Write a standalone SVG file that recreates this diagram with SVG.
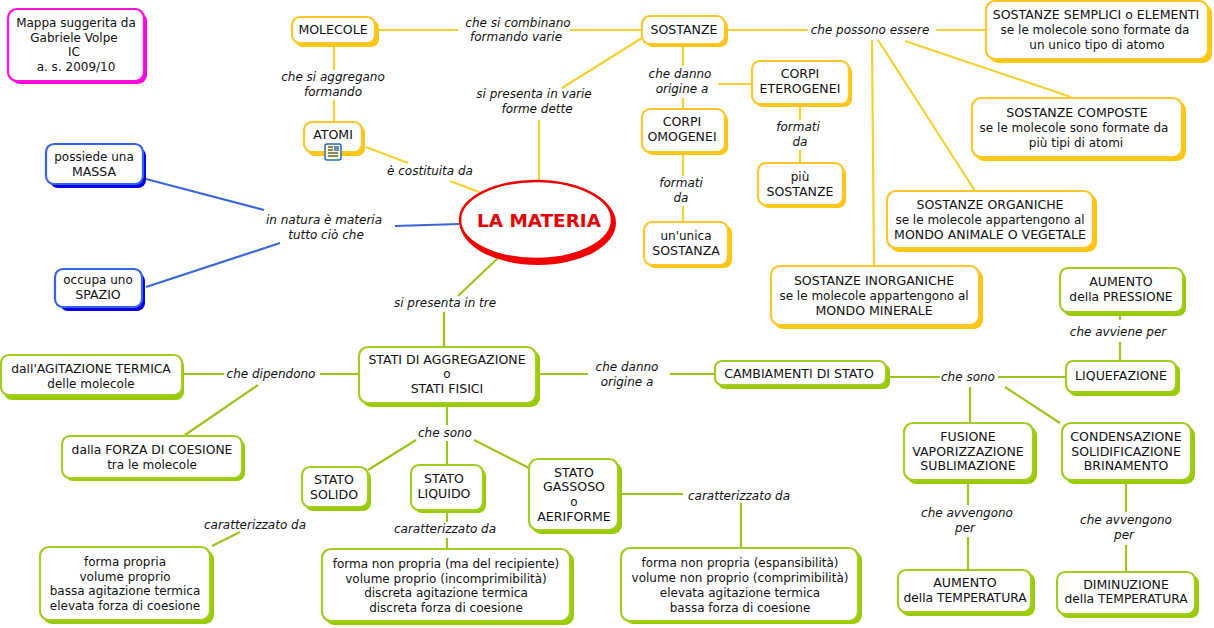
<svg xmlns="http://www.w3.org/2000/svg" width="1214" height="628" viewBox="0 0 1214 628">
<style>
text{font-family:"DejaVu Sans","Liberation Sans",sans-serif;font-size:12px;fill:#111;text-anchor:middle}
text.u{font-size:12.55px}
text.m{font-size:12.3px}
.l{font-style:italic}
.b{fill:#fff;stroke-width:2.2}
.c{fill:none;stroke-width:2.2}
.ny .s{fill:#fdc70f}.ny .b{stroke:#fdc62c}
.ng .s{fill:#99cc00}.ng .b{stroke:#a2cc22}
.nb .s{fill:#0000e6}.nb .b{stroke:#3563ea}
.np .s{fill:#ff00e0}.np .b{stroke:#ff10dd}
</style>
<rect width="1214" height="628" fill="#fff"/>
<g id="connectors">
<g class="c" stroke="#f7d031">
<path d="M379 30H458M570 30H642M334 47V70M334 100V122M366 147L408 163M450 181L479 192M539 180V120M562 88L642 38M683 47V66M683 98V109M728 30H808M936 30H986M718 84H752M800 104V120M800 150V163M683 152V176M683 206V222M905 41L1071 97M878 40L975 191M872 40L874 266"/>
</g>
<g class="c" stroke="#9dc41c">
<path d="M498 258L458 296M444 312V347M359 374H320M224 374H182M258 385L185 435M536 374H588M670 374H715M886 377H940M998 377H1066M1120 361V342M1120 312V320M970 387V423M1005 387L1060 423M968 480V505M968 537V570M1126 480V512M1126 545V572M447 403V425M447 441V465M416 440L368 470M474 440L529 468M447 510V522M212 546L240 532M447 538V549M618 494H683M741 503V548"/>
</g>
<g class="c" stroke="#3a66dc">
<path d="M146 179L264 210M146 287L280 243M395 226L459 224"/>
</g>
</g>
<g id="n-autore" class="np"><rect class="s" x="11" y="12" width="136" height="72" rx="9"/><rect class="b" x="8" y="9" width="136" height="72" rx="9"/><text x="76" y="27">Mappa suggerita da</text><text x="74" y="42">Gabriele Volpe</text><text x="74" y="56">IC</text><text x="76" y="71">a. s. 2009/10</text></g>
<g id="n-molecole" class="ny"><rect class="s" x="295" y="20" width="84" height="27" rx="8"/><rect class="b" x="292" y="17" width="83" height="26" rx="8"/><text class="u" x="333" y="34">MOLECOLE</text></g>
<g id="n-atomi" class="ny"><rect class="s" x="307" y="125" width="58" height="31" rx="8"/><rect class="b" x="304" y="122" width="58" height="30" rx="8"/><text class="u" x="333" y="139">ATOMI</text>
<rect x="325" y="144" width="16" height="16" rx="2" fill="#fffbd0" stroke="#2a6db5" stroke-width="1.5"/><path d="M328 147h5M328 150h5M328 153h10M328 156h10" stroke="#111" stroke-width="1"/><rect x="334" y="146" width="5" height="5" fill="#6a8fc0"/></g>
<g id="n-massa" class="nb"><rect class="s" x="50" y="148" width="96" height="40" rx="8"/><rect class="b" x="46" y="144" width="97" height="40" rx="8"/><text x="94" y="161">possiede una</text><text class="u" x="94" y="176">MASSA</text></g>
<g id="n-spazio" class="nb"><rect class="s" x="60" y="273" width="85" height="38" rx="8"/><rect class="b" x="55" y="269" width="87" height="38" rx="8"/><text x="98" y="284">occupa uno</text><text class="u" x="98" y="299">SPAZIO</text></g>
<g id="n-sostanze" class="ny"><rect class="s" x="645" y="19" width="83" height="28" rx="8"/><rect class="b" x="642" y="16" width="83" height="28" rx="8"/><text class="u" x="684" y="34">SOSTANZE</text></g>
<g id="n-eterogenei" class="ny"><rect class="s" x="755" y="64" width="97" height="43" rx="8"/><rect class="b" x="752" y="61" width="97" height="43" rx="8"/><text class="u" x="800" y="78">CORPI</text><text class="u" x="800" y="93">ETEROGENEI</text></g>
<g id="n-omogenei" class="ny"><rect class="s" x="645" y="112" width="83" height="43" rx="8"/><rect class="b" x="642" y="109" width="83" height="43" rx="8"/><text class="u" x="682" y="126">CORPI</text><text class="u" x="682" y="141">OMOGENEI</text></g>
<g id="n-piu" class="ny"><rect class="s" x="761" y="166" width="85" height="42" rx="8"/><rect class="b" x="758" y="163" width="85" height="42" rx="8"/><text x="800" y="181">più</text><text class="u" x="800" y="196">SOSTANZE</text></g>
<g id="n-unica" class="ny"><rect class="s" x="647" y="225" width="85" height="43" rx="8"/><rect class="b" x="644" y="222" width="84" height="43" rx="8"/><text x="686" y="240">un'unica</text><text class="u" x="686" y="255">SOSTANZA</text></g>
<g id="n-semplici" class="ny"><rect class="s" x="989" y="4" width="223" height="59" rx="9"/><rect class="b" x="986" y="1" width="222" height="58" rx="9"/><text class="u" x="1096" y="19">SOSTANZE SEMPLICI o ELEMENTI</text><text x="1095" y="34">se le molecole sono formate da</text><text x="1097" y="49">un unico tipo di atomo</text></g>
<g id="n-composte" class="ny"><rect class="s" x="975" y="101" width="211" height="60" rx="9"/><rect class="b" x="972" y="98" width="210" height="59" rx="9"/><text class="u" x="1077" y="117">SOSTANZE COMPOSTE</text><text x="1074" y="132">se le molecole sono formate da</text><text x="1076" y="147">più tipi di atomi</text></g>
<g id="n-organiche" class="ny"><rect class="s" x="890" y="194" width="207" height="58" rx="9"/><rect class="b" x="887" y="191" width="206" height="57" rx="9"/><text class="u" x="990" y="209">SOSTANZE ORGANICHE</text><text x="990" y="224">se le molecole appartengono al</text><text class="u" x="990" y="239">MONDO ANIMALE O VEGETALE</text></g>
<g id="n-inorganiche" class="ny"><rect class="s" x="774" y="269" width="209" height="60" rx="9"/><rect class="b" x="771" y="266" width="208" height="59" rx="9"/><text class="u" x="874" y="285">SOSTANZE INORGANICHE</text><text x="874" y="300">se le molecole appartengono al</text><text class="u" x="874" y="315">MONDO MINERALE</text></g>
<g id="n-pressione" class="ng"><rect class="s" x="1063" y="271" width="123" height="45" rx="8"/><rect class="b" x="1060" y="268" width="123" height="44" rx="8"/><text class="u" x="1121" y="286">AUMENTO</text><text class="m" x="1121" y="301">della PRESSIONE</text></g>
<g id="n-liquefazione" class="ng"><rect class="s" x="1069" y="364" width="111" height="32" rx="7"/><rect class="b" x="1066" y="361" width="110" height="31" rx="7"/><text class="u" x="1121" y="380">LIQUEFAZIONE</text></g>
<g id="n-cambiamenti" class="ng"><rect class="s" x="718" y="364" width="172" height="25" rx="7"/><rect class="b" x="715" y="361" width="171" height="24" rx="7"/><text class="u" x="799" y="378">CAMBIAMENTI DI STATO</text></g>
<g id="n-stati" class="ng"><rect class="s" x="362" y="350" width="178" height="57" rx="9"/><rect class="b" x="359" y="347" width="177" height="56" rx="9"/><text class="u" x="447" y="364">STATI DI AGGREGAZIONE</text><text x="447" y="378">o</text><text class="u" x="447" y="393">STATI FISICI</text></g>
<g id="n-agitazione" class="ng"><rect class="s" x="4" y="358" width="180" height="42" rx="8"/><rect class="b" x="1" y="355" width="181" height="40" rx="8"/><text class="m" x="91" y="373">dall'AGITAZIONE TERMICA</text><text x="91" y="388">delle molecole</text></g>
<g id="n-coesione" class="ng"><rect class="s" x="65" y="439" width="180" height="42" rx="8"/><rect class="b" x="62" y="436" width="180" height="42" rx="8"/><text class="m" x="152" y="454">dalla FORZA DI COESIONE</text><text x="152" y="469">tra le molecole</text></g>
<g id="n-solido" class="ng"><rect class="s" x="305" y="470" width="66" height="41" rx="8"/><rect class="b" x="302" y="467" width="66" height="40" rx="8"/><text class="u" x="334" y="484">STATO</text><text class="u" x="334" y="499">SOLIDO</text></g>
<g id="n-liquido" class="ng"><rect class="s" x="414" y="468" width="72" height="45" rx="8"/><rect class="b" x="411" y="465" width="72" height="45" rx="8"/><text class="u" x="444" y="483">STATO</text><text class="u" x="444" y="498">LIQUIDO</text></g>
<g id="n-gassoso" class="ng"><rect class="s" x="532" y="462" width="90" height="72" rx="9"/><rect class="b" x="529" y="459" width="89" height="71" rx="9"/><text class="u" x="574" y="477">STATO</text><text class="u" x="574" y="491">GASSOSO</text><text x="574" y="506">o</text><text class="u" x="574" y="521">AERIFORME</text></g>
<g id="n-solido-prop" class="ng"><rect class="s" x="43" y="550" width="171" height="74" rx="9"/><rect class="b" x="40" y="547" width="170" height="73" rx="9"/><text x="125" y="566">forma propria</text><text x="125" y="581">volume proprio</text><text x="125" y="595">bassa agitazione termica</text><text x="125" y="610">elevata forza di coesione</text></g>
<g id="n-liquido-prop" class="ng"><rect class="s" x="325" y="552" width="249" height="73" rx="9"/><rect class="b" x="322" y="549" width="248" height="72" rx="9"/><text x="446" y="568">forma non propria (ma del recipiente)</text><text x="446" y="583">volume proprio (incomprimibilità)</text><text x="446" y="597">discreta agitazione termica</text><text x="446" y="612">discreta forza di coesione</text></g>
<g id="n-gas-prop" class="ng"><rect class="s" x="624" y="551" width="238" height="73" rx="9"/><rect class="b" x="621" y="548" width="237" height="73" rx="9"/><text x="740" y="567">forma non propria (espansibilità)</text><text x="740" y="582">volume non proprio (comprimibilità)</text><text x="740" y="597">elevata agitazione termica</text><text x="740" y="612">bassa forza di coesione</text></g>
<g id="n-fusione" class="ng"><rect class="s" x="907" y="426" width="130" height="58" rx="9"/><rect class="b" x="904" y="423" width="129" height="57" rx="9"/><text class="u" x="968" y="441">FUSIONE</text><text class="u" x="968" y="456">VAPORIZZAZIONE</text><text class="u" x="968" y="470">SUBLIMAZIONE</text></g>
<g id="n-condensazione" class="ng"><rect class="s" x="1065" y="426" width="130" height="58" rx="9"/><rect class="b" x="1062" y="423" width="129" height="57" rx="9"/><text class="u" x="1126" y="441">CONDENSAZIONE</text><text class="u" x="1126" y="456">SOLIDIFICAZIONE</text><text class="u" x="1126" y="470">BRINAMENTO</text></g>
<g id="n-aumento-t" class="ng"><rect class="s" x="901" y="573" width="134" height="43" rx="8"/><rect class="b" x="898" y="570" width="133" height="42" rx="8"/><text class="u" x="965" y="587">AUMENTO</text><text class="m" x="965" y="602">della TEMPERATURA</text></g>
<g id="n-diminuzione" class="ng"><rect class="s" x="1060" y="575" width="139" height="43" rx="8"/><rect class="b" x="1057" y="572" width="138" height="42" rx="8"/><text class="u" x="1126" y="589">DIMINUZIONE</text><text class="m" x="1126" y="603">della TEMPERATURA</text></g>
<g id="n-materia"><ellipse cx="538" cy="223" rx="78" ry="42" fill="#f00000"/><ellipse cx="536" cy="220" rx="76" ry="39" fill="#fff" stroke="#f00000" stroke-width="2.5"/><text x="539" y="227" style="font-size:18.4px;font-weight:bold;fill:#e60000">LA MATERIA</text></g>
<g id="labels">
<text class="l" x="518" y="27">che si combinano</text><text class="l" x="516" y="41">formando varie</text>
<text class="l" x="333" y="81">che si aggregano</text><text class="l" x="333" y="96">formando</text>
<text class="l" x="430" y="175">è costituita da</text>
<text class="l" x="324" y="224">in natura è materia</text><text class="l" x="326" y="239">tutto ciò che</text>
<text class="l" x="534" y="98">si presenta in varie</text><text class="l" x="537" y="113">forme dette</text>
<text class="l" x="680" y="78">che danno</text><text class="l" x="682" y="93">origine a</text>
<text class="l" x="870" y="34">che possono essere</text>
<text class="l" x="798" y="131">formati</text><text class="l" x="800" y="146">da</text>
<text class="l" x="681" y="187">formati</text><text class="l" x="681" y="202">da</text>
<text class="l" x="445" y="307">si presenta in tre</text>
<text class="l" x="271" y="378">che dipendono</text>
<text class="l" x="627" y="371">che danno</text><text class="l" x="627" y="386">origine a</text>
<text class="l" x="968" y="381">che sono</text>
<text class="l" x="1118" y="336">che avviene per</text>
<text class="l" x="445" y="437">che sono</text>
<text class="l" x="255" y="529">caratterizzato da</text>
<text class="l" x="445" y="533">caratterizzato da</text>
<text class="l" x="739" y="500">caratterizzato da</text>
<text class="l" x="967" y="517">che avvengono</text><text class="l" x="965" y="532">per</text>
<text class="l" x="1126" y="524">che avvengono</text><text class="l" x="1124" y="539">per</text>
</g>
</svg>
